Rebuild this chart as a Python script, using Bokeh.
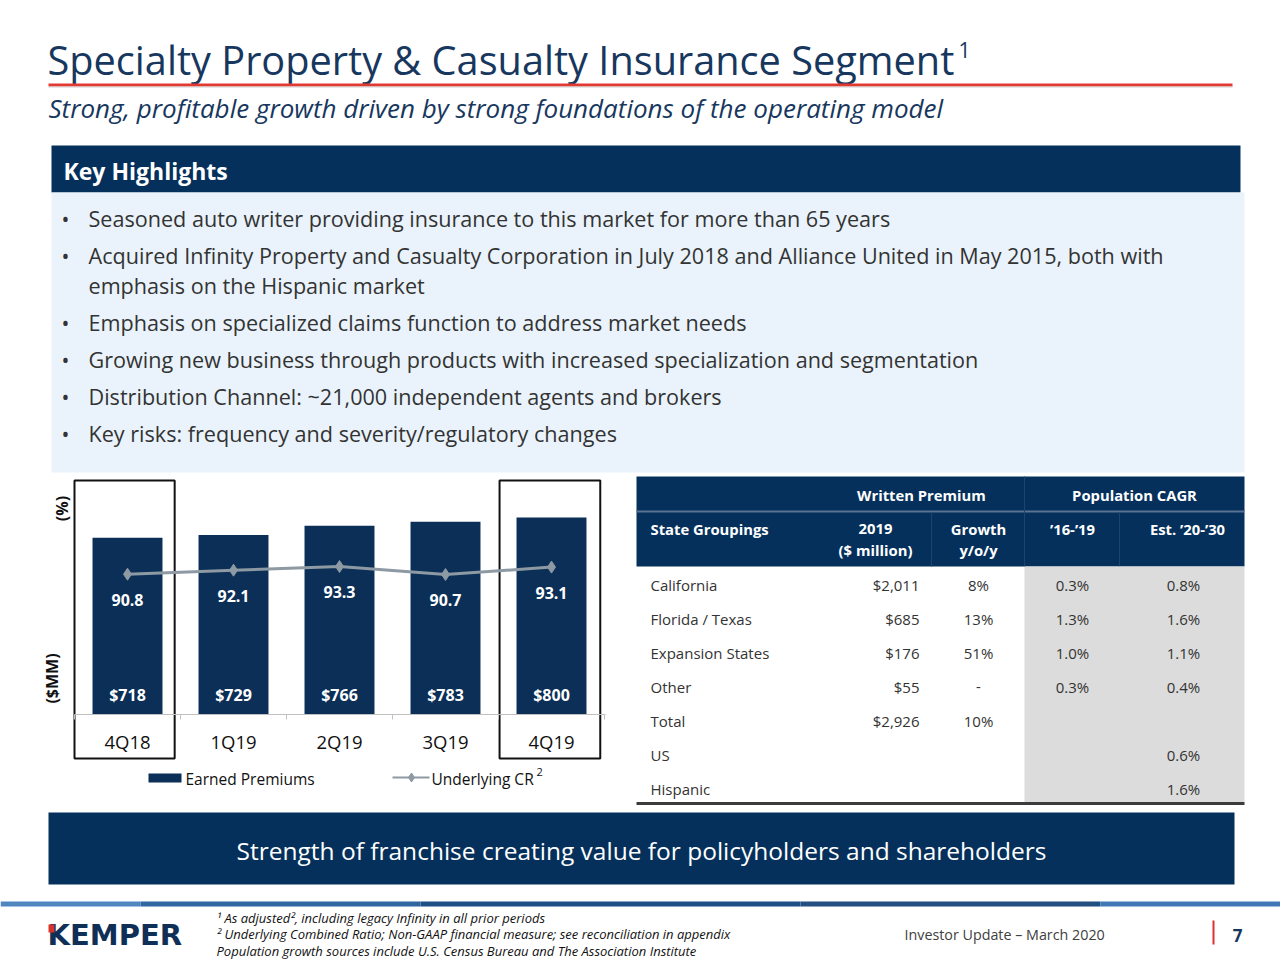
from bokeh.plotting import figure
from bokeh.layouts import column, row
from bokeh.models import Range1d, ColumnDataSource
from bokeh.core.properties import value
from bokeh.embed import file_html
from bokeh.resources import INLINE
import math

# ---------------- data ----------------
quarters = ["4Q18", "1Q19", "2Q19", "3Q19", "4Q19"]
earned_premiums = [718, 729, 766, 783, 800]
underlying_cr = [90.8, 92.1, 93.3, 90.7, 93.1]

state_groupings = ["California", "Florida / Texas", "Expansion States", "Other", "Total", "US", "Hispanic"]
written_2019 = ["$2,011", "$685", "$176", "$55", "$2,926", "", ""]
growth_yoy = ["8%", "13%", "51%", "-", "10%", "", ""]
cagr_16_19 = ["0.3%", "1.3%", "1.0%", "0.3%", "", "", ""]
cagr_20_30 = ["0.8%", "1.6%", "1.1%", "0.4%", "", "0.6%", "1.6%"]

bullets = [
    ["Seasoned auto writer providing insurance to this market for more than 65 years"],
    ["Acquired Infinity Property and Casualty Corporation in July 2018 and Alliance United in May 2015, both with",
     "emphasis on the Hispanic market"],
    ["Emphasis on specialized claims function to address market needs"],
    ["Growing new business through products with increased specialization and segmentation"],
    ["Distribution Channel: ~21,000 independent agents and brokers"],
    ["Key risks: frequency and severity/regulatory changes"],
]

title = "Specialty Property & Casualty Insurance Segment"
subtitle = "Strong, profitable growth driven by strong foundations of the operating model"
banner = "Strength of franchise creating value for policyholders and shareholders"
footnotes = [
    "\u00b9 As adjusted\u00b2, including legacy Infinity in all prior periods",
    "\u00b2 Underlying Combined Ratio; Non-GAAP financial measure; see reconciliation in appendix",
    "Population growth sources include U.S. Census Bureau and The Association Institute",
]

# ---------------- style ----------------
FONT = "Open Sans"
NAVY = "#04305b"
BAR = "#0b2f57"
TITLE_C = "#17375e"
TEXT_C = "#333333"
LIGHT_BLUE = "#eaf3fc"
CR_GRAY = "#8d99a3"


def make_fig(w, h, x0, x1, y0, y1):
    p = figure(width=w, height=h, x_range=Range1d(x0, x1), y_range=Range1d(y1, y0),
               toolbar_location=None, output_backend="svg", min_border=0,
               x_axis_location=None, y_axis_location=None)
    p.grid.visible = False
    p.outline_line_color = None
    p.background_fill_color = "white"
    p.border_fill_color = "white"
    return p


def txt(p, x, y, s, size, color=TEXT_C, align="left", style="normal", baseline="middle",
        angle=0.0, font=FONT, **kw):
    p.text(x=[x], y=[y], text=[s], text_font=value(font), text_font_size=size,
           text_color=color, text_align=align, text_font_style=style,
           text_baseline=baseline, angle=angle, **kw)


# ---------------- top area (slide y 0..474) ----------------
top = make_fig(1280, 474, 0, 1280, 0, 474)
txt(top, 47, 59, title, "39.7px", TITLE_C)
txt(top, 958, 49, "1", "21px", TITLE_C)
top.quad(left=[48], right=[1232], top=[83], bottom=[86], fill_color="#e23a32", line_color=None)
top.quad(left=[48], right=[1232], top=[86], bottom=[87], fill_color="#cfcfcf", line_color=None)
txt(top, 48, 107, subtitle, "26px", TITLE_C, style="italic")

top.quad(left=[51], right=[1240], top=[145], bottom=[192], fill_color=NAVY, line_color=None)
txt(top, 63, 170, "Key Highlights", "23px", "white", style="bold")
top.quad(left=[51], right=[1244], top=[192], bottom=[472], fill_color=LIGHT_BLUE, line_color=None)

by = 218
for b in bullets:
    txt(top, 61, by, "\u2022", "21px", TEXT_C)
    for j, line in enumerate(b):
        txt(top, 88, by, line, "21.6px", TEXT_C)
        by += 30 if j < len(b) - 1 else 0
    by += 37

# ---------------- bar chart (slide x 0..630, y 474..808) ----------------
bar = make_fig(630, 334, 0, 630, 474, 808)
# category index range, premium range and CR range mapped onto the same frame
bar.extra_x_ranges = {"idx": Range1d((0 - 127) / 106.0, (630 - 127) / 106.0)}
bar.extra_y_ranges = {"prem": Range1d(-(808 - 714) / 0.2463, (714 - 474) / 0.2463),
                      "cr": Range1d(90.7 - (808 - 574) / 3.08, 93.3 + (566 - 474) / 3.08)}

idx = list(range(len(quarters)))
src = ColumnDataSource(dict(x=idx, q=quarters, ep=earned_premiums, cr=underlying_cr,
                            ep_lbl=["$%d" % v for v in earned_premiums],
                            cr_lbl=["%.1f" % v for v in underlying_cr],
                            cr_pos=[v - 8.3 for v in underlying_cr],
                            ep_pos=[81.0] * len(quarters)))

# highlight boxes for 4Q18 and 4Q19
bar.quad(left=[-0.5, 3.51], right=[0.445, 4.46], top=[480, 480], bottom=[758, 758],
         fill_color=None, line_color="#111111", line_width=2, x_range_name="idx")

bar.vbar(x="x", top="ep", bottom=0, width=0.66, source=src, fill_color=BAR, line_color=None,
         x_range_name="idx", y_range_name="prem")

# axis line and boundary ticks
bar.segment(x0=[74], x1=[605], y0=[714], y1=[714], line_color="#c0c0c0", line_width=1)
bar.segment(x0=[i - 0.5 for i in range(6)], x1=[i - 0.5 for i in range(6)], y0=[714] * 6, y1=[719] * 6,
            line_color="#c0c0c0", line_width=1, x_range_name="idx")

bar.line(x="x", y="cr", source=src, line_color=CR_GRAY, line_width=3, x_range_name="idx", y_range_name="cr")
bar.scatter(x="x", y="cr", source=src, marker="diamond", size=12, fill_color=CR_GRAY, line_color=CR_GRAY,
            x_range_name="idx", y_range_name="cr")

bar.text(x="x", y="cr_pos", text="cr_lbl", source=src, text_font=value(FONT), text_font_size="16px",
         text_font_style="bold", text_color="white", text_align="center", text_baseline="middle",
         x_range_name="idx", y_range_name="cr")
bar.text(x="x", y="ep_pos", text="ep_lbl", source=src, text_font=value(FONT), text_font_size="16px",
         text_font_style="bold", text_color="white", text_align="center", text_baseline="middle",
         x_range_name="idx", y_range_name="prem")
bar.text(x="x", y=741, text="q", source=src, text_font=value(FONT), text_font_size="18.5px",
         text_color="#111111", text_align="center", text_baseline="middle", x_range_name="idx")

txt(bar, 61, 508, "(%)", "16px", "#111111", align="center", style="bold", angle=math.pi / 2)
txt(bar, 51, 678, "($MM)", "16px", "#111111", align="center", style="bold", angle=math.pi / 2)

# legend
bar.quad(left=[148], right=[181], top=[773], bottom=[782], fill_color=BAR, line_color=None)
txt(bar, 185, 778, "Earned Premiums", "15.5px", "#111111")
bar.segment(x0=[392], x1=[429], y0=[777], y1=[777], line_color=CR_GRAY, line_width=2)
bar.scatter(x=[411], y=[777], marker="diamond", size=9, fill_color=CR_GRAY, line_color=CR_GRAY)
txt(bar, 431, 778, "Underlying CR", "15.5px", "#111111")
txt(bar, 536, 771, "2", "11px", "#111111")

# ---------------- table (slide x 630..1280, y 474..808) ----------------
tab = make_fig(650, 334, 630, 1280, 474, 808)
tab.quad(left=[636], right=[1244], top=[476], bottom=[566], fill_color=NAVY, line_color=None)
tab.segment(x0=[636], x1=[1244], y0=[511], y1=[511], line_color="#5a7393", line_width=2)
tab.segment(x0=[1024, 931, 1119], x1=[1024, 931, 1119], y0=[476, 512, 512], y1=[566, 566, 566],
            line_color="#1d4470", line_width=1)
tab.quad(left=[1024], right=[1244], top=[566], bottom=[802], fill_color="#dcdcdc", line_color=None)
tab.segment(x0=[636], x1=[1244], y0=[803], y1=[803], line_color="#3b3b3b", line_width=3)

HB = "14.8px"
txt(tab, 921, 494, "Written Premium", HB, "white", align="center", style="bold")
txt(tab, 1134, 494, "Population CAGR", HB, "white", align="center", style="bold")
txt(tab, 650, 528, "State Groupings", HB, "white", style="bold")
txt(tab, 875, 528, "2019", HB, "white", align="center", style="bold")
txt(tab, 875, 549, "($ million)", HB, "white", align="center", style="bold")
txt(tab, 978, 528, "Growth", HB, "white", align="center", style="bold")
txt(tab, 978, 549, "y/o/y", HB, "white", align="center", style="bold")
txt(tab, 1072, 528, "\u201916-\u201919", HB, "white", align="center", style="bold")
txt(tab, 1187, 528, "Est. \u201920-\u201930", HB, "white", align="center", style="bold")

rows_y = [584 + 34 * i for i in range(len(state_groupings))]
tsrc = ColumnDataSource(dict(y=rows_y, name=state_groupings, w=written_2019, g=growth_yoy,
                             c1=cagr_16_19, c2=cagr_20_30))
RS = "15px"
tab.text(x=650, y="y", text="name", source=tsrc, text_font=value(FONT), text_font_size=RS,
         text_color=TEXT_C, text_align="left", text_baseline="middle")
tab.text(x=919, y="y", text="w", source=tsrc, text_font=value(FONT), text_font_size=RS,
         text_color=TEXT_C, text_align="right", text_baseline="middle")
tab.text(x=978, y="y", text="g", source=tsrc, text_font=value(FONT), text_font_size=RS,
         text_color=TEXT_C, text_align="center", text_baseline="middle")
tab.text(x=1072, y="y", text="c1", source=tsrc, text_font=value(FONT), text_font_size=RS,
         text_color=TEXT_C, text_align="center", text_baseline="middle")
tab.text(x=1183, y="y", text="c2", source=tsrc, text_font=value(FONT), text_font_size=RS,
         text_color=TEXT_C, text_align="center", text_baseline="middle")

# ---------------- bottom (slide y 808..960) ----------------
bot = make_fig(1280, 152, 0, 1280, 808, 960)
bot.quad(left=[48], right=[1234], top=[812], bottom=[884], fill_color=NAVY, line_color=None)
txt(bot, 641, 850, banner, "24.5px", "white", align="center")

grad = [(0, 140, "#4f86bf"), (140, 420, "#2f67a3"), (420, 800, "#1d4f86"),
        (800, 1100, "#224f82"), (1100, 1280, "#3f78b4")]
bot.quad(left=[g[0] for g in grad], right=[g[1] for g in grad], top=[901] * 5, bottom=[906] * 5,
         fill_color=[g[2] for g in grad], line_color=None)

txt(bot, 47, 934, "KEMPER", "29px", "#0f2f57", style="bold", font="DejaVu Sans")
bot.quad(left=[48], right=[54], top=[924], bottom=[932], fill_color="#d9322b", line_color=None)

for i, f in enumerate(footnotes):
    txt(bot, 216, 917 + 16.5 * i, f, "13px", "#111111", style="italic")

txt(bot, 904, 934, "Investor Update \u2013 March 2020", "14.3px", "#404040")
bot.segment(x0=[1213], x1=[1213], y0=[920], y1=[944], line_color="#e0302f", line_width=2)
txt(bot, 1237, 935, "7", "17px", "#17375e", align="center", style="bold")

layout = column(top, row(bar, tab), bot)
open("out.html", "w").write(file_html(layout, INLINE))
